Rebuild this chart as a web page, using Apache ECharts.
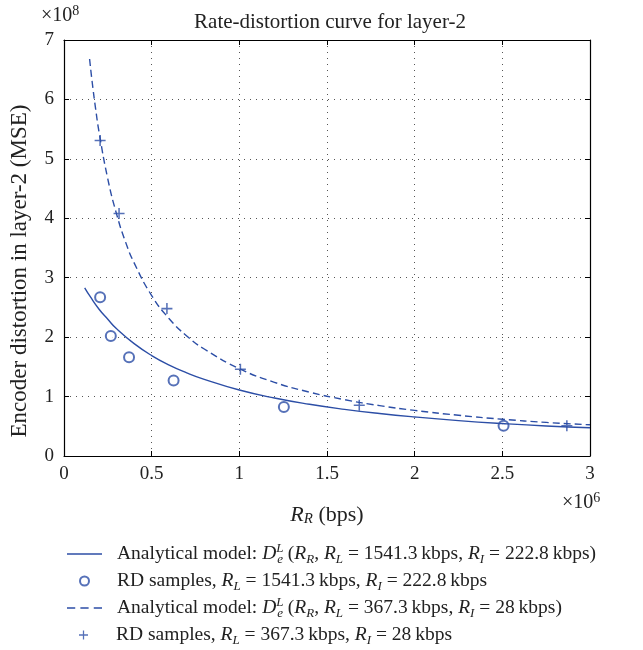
<!DOCTYPE html>
<html>
<head>
<meta charset="utf-8">
<script src="https://cdn.jsdelivr.net/npm/echarts@6/dist/echarts.min.js"></script>
<style>html,body{margin:0;padding:0;background:#fff;}#c{width:643px;height:650px;}</style>
</head>
<body>
<div id="c"></div>
<script>
// Values in axis units: x in 10^6 bps, y in 10^8 (MSE)
const xTicks = [0, 0.5, 1, 1.5, 2, 2.5, 3];
const yTicks = [0, 1, 2, 3, 4, 5, 6, 7];

const solidX = [0.118, 0.15, 0.2, 0.25, 0.3, 0.4, 0.5, 0.6, 0.7, 0.8, 1.0, 1.2, 1.4, 1.6, 1.8, 2.0, 2.25, 2.5, 2.75, 3.0];
const solidY = [2.83, 2.68, 2.47, 2.30, 2.14, 1.89, 1.69, 1.53, 1.40, 1.29, 1.11, 0.975, 0.87, 0.785, 0.715, 0.657, 0.596, 0.546, 0.505, 0.475];

const dashedX = [0.146, 0.16, 0.18, 0.2, 0.25, 0.3, 0.35, 0.4, 0.5, 0.6, 0.7, 0.8, 1.0, 1.2, 1.4, 1.6, 1.8, 2.0, 2.25, 2.5, 2.75, 3.0];
const dashedY = [6.68, 6.31, 5.85, 5.45, 4.66, 4.07, 3.61, 3.25, 2.70, 2.31, 2.02, 1.80, 1.47, 1.24, 1.075, 0.948, 0.848, 0.767, 0.685, 0.619, 0.565, 0.525];

const circleX = [0.206, 0.267, 0.371, 0.625, 1.254, 2.507];
const circleY = [2.67, 2.02, 1.66, 1.27, 0.825, 0.51];

const plusX = [0.206, 0.314, 0.587, 1.006, 1.684, 2.868];
const plusY = [5.31, 4.08, 2.48, 1.46, 0.853, 0.51];

const seriesNames = ['model1', 'samples1', 'model2', 'samples2'];
const legendTexts = {
  model1: 'Analytical model: {i|D}{sup|L}{sub|e} ({i|R}{sub|R}, {i|R}{sub|L} = 1541.3\u2009kbps, {i|R}{sub|I} = 222.8\u2009kbps)',
  samples1: 'RD samples, {i|R}{sub|L} = 1541.3\u2009kbps, {i|R}{sub|I} = 222.8\u2009kbps',
  model2: 'Analytical model: {i|D}{sup|L}{sub|e} ({i|R}{sub|R}, {i|R}{sub|L} = 367.3\u2009kbps, {i|R}{sub|I} = 28\u2009kbps)',
  samples2: 'RD samples, {i|R}{sub|L} = 367.3\u2009kbps, {i|R}{sub|I} = 28\u2009kbps'
};
const legendRowsY = [554, 581, 608, 635];

const FONT = '"Liberation Serif", "DejaVu Serif", serif';
const BLUE = '#2c4ea6';
const TXT = '#222';
const PLUS = 'path://M8.6,0H11.4V8.6H20V11.4H11.4V20H8.6V11.4H0V8.6H8.6Z';
const ICON_SOLID = 'path://M0,0H35V1.4H0Z';
const ICON_DASH = 'path://M0,0H8V1.4H0Z M13,0H21V1.4H13Z M26,0H34V1.4H26Z';
const legendIcons = { model1: ICON_SOLID, samples1: 'emptyCircle', model2: ICON_DASH, samples2: PLUS };
const legendLeft = { model1: 62, samples1: 74, model2: 62, samples2: 74 };

function pairs(xs, ys) { return xs.map((x, i) => [x, ys[i]]); }

function rich(fs) {
  return {
    i: { fontFamily: FONT, fontStyle: 'italic', fontSize: fs, color: TXT, lineHeight: 24, verticalAlign: 'middle' },
    sub: { fontFamily: FONT, fontStyle: 'italic', fontSize: Math.round(fs * 0.68), color: TXT, lineHeight: 12, verticalAlign: 'bottom' },
    sup: { fontFamily: FONT, fontStyle: 'italic', fontSize: Math.round(fs * 0.68), color: TXT, lineHeight: 12, verticalAlign: 'top', width: 1, align: 'left' }
  };
}

const chart = echarts.init(document.getElementById('c'), null, { renderer: 'canvas' });

const axisLineStyle = { color: '#000', width: 1.2 };
const gridLine = { show: true, lineStyle: { type: [1, 5], color: '#555', width: 1 } };
const tickStyle = { show: true, inside: true, length: 5, lineStyle: { color: '#000' } };

const legends = seriesNames.map((n, k) => ({
  orient: 'vertical', left: legendLeft[n], top: legendRowsY[k] - 12 - 5,
  itemWidth: 35, itemHeight: 9, itemGap: 0,
  data: [{ name: n, icon: legendIcons[n] }],
  formatter: nm => legendTexts[nm],
  selectedMode: false,
  textStyle: { fontFamily: FONT, fontSize: 19.5, color: TXT, lineHeight: 24, padding: [0, 0, 0, 10], rich: rich(19.5) }
}));

chart.setOption({
  animation: false,
  backgroundColor: '#fff',
  title: {
    text: 'Rate-distortion curve for layer-2',
    left: 325, top: 7, textAlign: 'center',
    textStyle: { fontFamily: FONT, fontSize: 21, fontWeight: 'normal', color: TXT }
  },
  grid: { left: 62, right: 53, top: 40, bottom: 194, containLabel: false },
  xAxis: [{
    type: 'value', min: xTicks[0], max: xTicks[xTicks.length - 1], interval: xTicks[1] - xTicks[0],
    position: 'bottom',
    axisLine: { show: true, onZero: false, lineStyle: axisLineStyle },
    axisTick: tickStyle,
    axisLabel: { margin: 9, fontFamily: FONT, fontSize: 19, color: TXT },
    splitLine: gridLine,
    name: '{i|R}{sub|R} (bps)', nameLocation: 'middle', nameGap: 47,
    nameTextStyle: { fontFamily: FONT, fontSize: 22, color: TXT, lineHeight: 24, rich: rich(22) }
  }, {
    type: 'value', min: xTicks[0], max: xTicks[xTicks.length - 1], interval: xTicks[1] - xTicks[0],
    position: 'top',
    axisLine: { show: true, onZero: false, lineStyle: axisLineStyle },
    axisTick: tickStyle,
    axisLabel: { show: false }, splitLine: { show: false }
  }],
  yAxis: [{
    type: 'value', min: yTicks[0], max: yTicks[yTicks.length - 1], interval: yTicks[1] - yTicks[0],
    position: 'left',
    axisLine: { show: true, onZero: false, lineStyle: axisLineStyle },
    axisTick: tickStyle,
    axisLabel: { margin: 10, fontFamily: FONT, fontSize: 19, color: TXT },
    splitLine: gridLine,
    name: 'Encoder distortion in layer-2 (MSE)', nameLocation: 'middle', nameGap: 33, nameRotate: 90,
    nameTextStyle: { fontFamily: FONT, fontSize: 23, color: TXT, padding: [0, 46, 0, 0] }
  }, {
    type: 'value', min: yTicks[0], max: yTicks[yTicks.length - 1], interval: yTicks[1] - yTicks[0],
    position: 'right',
    axisLine: { show: true, onZero: false, lineStyle: axisLineStyle },
    axisTick: tickStyle,
    axisLabel: { show: false }, splitLine: { show: false }
  }],
  legend: legends,
  graphic: [
    { type: 'text', left: 41, top: 4, style: { text: '×10{sup|8}', fontFamily: FONT, fontSize: 20, fill: TXT, lineHeight: 24,
      rich: { sup: { fontFamily: FONT, fontSize: 14, fill: TXT, lineHeight: 14, verticalAlign: 'top' } } } },
    { type: 'text', left: 562, top: 491, style: { text: '×10{sup|6}', fontFamily: FONT, fontSize: 20, fill: TXT, lineHeight: 24,
      rich: { sup: { fontFamily: FONT, fontSize: 14, fill: TXT, lineHeight: 14, verticalAlign: 'top' } } } }
  ],
  series: [{
    name: 'model1', type: 'line', data: pairs(solidX, solidY), smooth: true, showSymbol: false, symbol: 'none',
    lineStyle: { color: BLUE, width: 1.4, type: 'solid' }, itemStyle: { color: BLUE }
  }, {
    name: 'samples1', type: 'scatter', data: pairs(circleX, circleY), symbol: 'emptyCircle', symbolSize: 10,
    itemStyle: { color: BLUE, borderColor: BLUE, borderWidth: 1.3 }
  }, {
    name: 'model2', type: 'line', data: pairs(dashedX, dashedY), smooth: true, showSymbol: false, symbol: 'none',
    lineStyle: { color: BLUE, width: 1.4, type: [7, 4] }, itemStyle: { color: BLUE }
  }, {
    name: 'samples2', type: 'scatter', data: pairs(plusX, plusY), symbol: PLUS, symbolSize: 11,
    itemStyle: { color: BLUE }
  }]
});
</script>
</body>
</html>
